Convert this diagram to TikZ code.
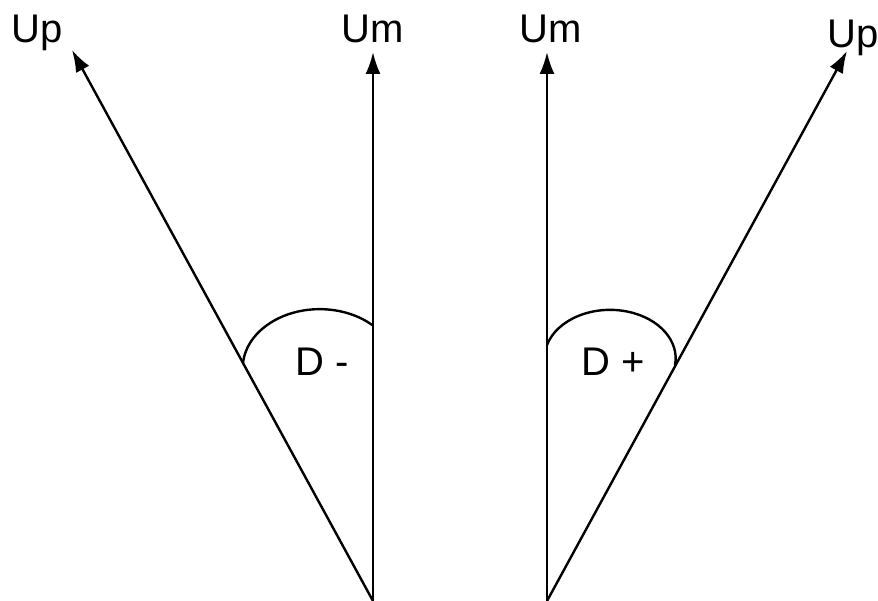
\documentclass[tikz,border=0pt]{standalone}
\usepackage{fontspec}
\setmainfont{Liberation Sans}
\usetikzlibrary{arrows.meta,calc,positioning}

\begin{document}
\begin{tikzpicture}[x=1pt,y=1pt,>={Latex[length=22pt,width=15pt]},line width=2.4pt,
    font=\fontsize{40}{48}\selectfont,
    vec/.style={->},
    lbl/.style={inner sep=0pt,anchor=base}]
  \useasboundingbox (0,0) rectangle (878,601);
  % left: D -
  \coordinate (o1) at (373,0);
  \coordinate (um1) at (373,549);
  \coordinate (up1) at (72,551);
  \draw[vec] (o1)--(um1);
  \draw[vec] (o1)--(up1);
  \node[lbl] (tum1) at (373,558) {Um};
  \node[lbl] (tup1) at (37,558) {Up};
  \coordinate (a1) at ($(o1)!0.4319!(up1)$);
  \draw (a1) arc[start angle=175,end angle=47,x radius=77,y radius=59];
  \node[lbl] (dm) at (322,225) {D -};
  % right: D +
  \coordinate (o2) at (547,0);
  \coordinate (um2) at (547,549);
  \coordinate (up2) at (847,550);
  \draw[vec] (o2)--(um2);
  \draw[vec] (o2)--(up2);
  \node[lbl] (tum2) at (551,558) {Um};
  \node[lbl] (tup2) at (853,553) {Up};
  \coordinate (a2) at (547,256);
  \draw (a2) arc[start angle=164,end angle=-8,x radius=65.6,y radius=48.5];
  \node[lbl] (dp) at (613,225) {D +};
\end{tikzpicture}
\end{document}
